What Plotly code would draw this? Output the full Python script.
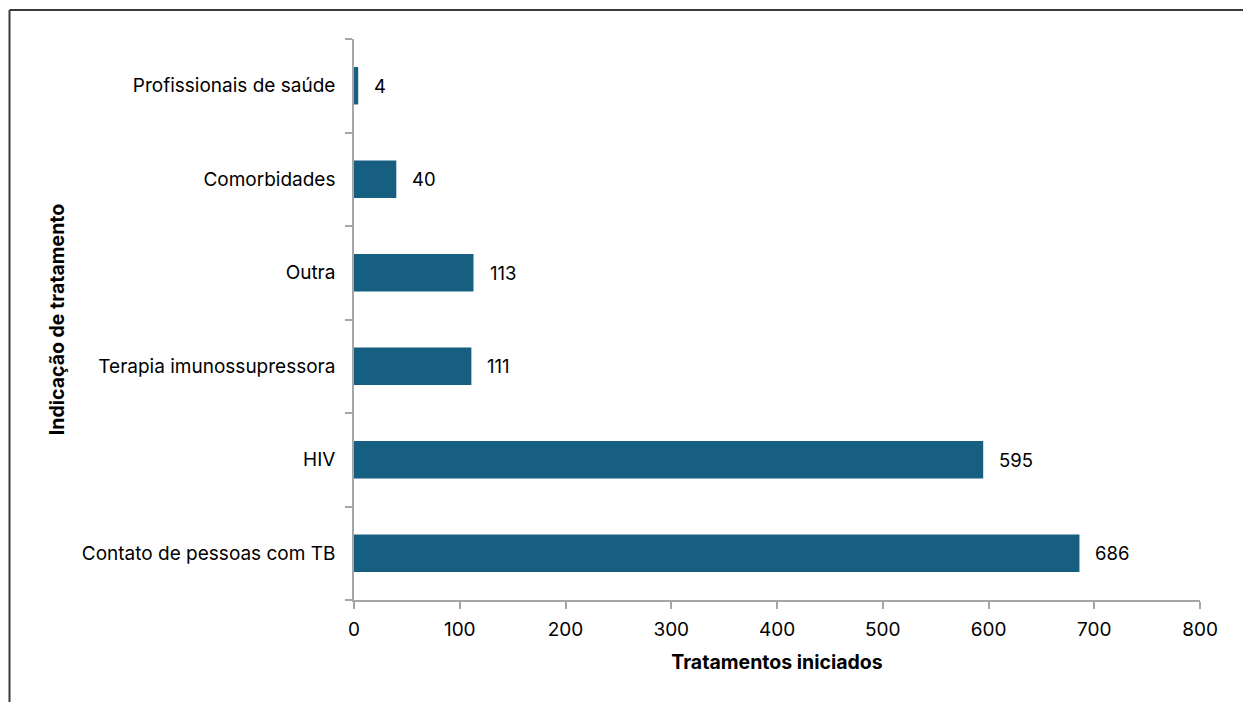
import plotly.graph_objects as go

# Treatment indications (bottom to top) and number of treatments started
categories = [
    "Contato de pessoas com TB",
    "HIV",
    "Terapia imunossupressora",
    "Outra",
    "Comorbidades",
    "Profissionais de saúde",
]
values = [686, 595, 111, 113, 40, 4]
x_ticks = [0, 100, 200, 300, 400, 500, 600, 700, 800]

bar_color = "#175f80"
axis_color = "#a6a6a6"
font_family = "Inter, Roboto, Arial, sans-serif"
label_size = 19
title_size = 19.5

fig = go.Figure()
fig.add_trace(go.Bar(
    x=values,
    y=categories,
    orientation="h",
    width=0.4,
    marker=dict(color=bar_color, line=dict(width=0)),
    hoverinfo="x+y",
))

# value labels just to the right of each bar
for cat, val in zip(categories, values):
    fig.add_annotation(
        x=val, y=cat, text=str(val), showarrow=False,
        xanchor="left", yanchor="middle", xshift=14,
        font=dict(size=18.5, color="#000000", family=font_family),
    )

# outer frame (top and left edges)
frame_color = "#3a3a3a"
fig.add_shape(type="line", xref="paper", yref="paper",
              x0=-0.4072, x1=1.06, y0=1.0517, y1=1.0517,
              line=dict(color=frame_color, width=2))
fig.add_shape(type="line", xref="paper", yref="paper",
              x0=-0.4072, x1=-0.4072, y0=1.0517, y1=-0.2,
              line=dict(color=frame_color, width=2))

fig.update_layout(
    width=1243,
    height=702,
    margin=dict(l=354, r=43, t=39, b=102),
    plot_bgcolor="white",
    paper_bgcolor="white",
    showlegend=False,
    font=dict(family=font_family, size=label_size, color="#000000"),
    bargap=0.6,
)

fig.update_xaxes(
    range=[0, 800],
    tickvals=x_ticks,
    ticktext=[str(t) for t in x_ticks],
    showgrid=False,
    zeroline=False,
    showline=True,
    linecolor=axis_color,
    linewidth=1.5,
    ticks="outside",
    ticklen=7,
    tickcolor=axis_color,
    tickwidth=1.5,
    ticklabelstandoff=4,
    tickfont=dict(size=label_size, family=font_family, color="#000000"),
    title=dict(text="<b>Tratamentos iniciados</b>",
               font=dict(size=title_size, family=font_family, color="#000000"),
               standoff=16),
)

fig.update_yaxes(
    categoryorder="array",
    categoryarray=categories,
    showgrid=False,
    zeroline=False,
    showline=True,
    linecolor=axis_color,
    linewidth=1.5,
    ticks="outside",
    tickson="boundaries",
    ticklen=7,
    tickcolor=axis_color,
    tickwidth=1.5,
    ticklabelstandoff=13,
    tickfont=dict(size=label_size, family=font_family, color="#000000"),
    title=dict(text="<b>Indicação de tratamento</b>",
               font=dict(size=title_size, family=font_family, color="#000000"),
               standoff=12),
)

fig.write_html("out.html")
